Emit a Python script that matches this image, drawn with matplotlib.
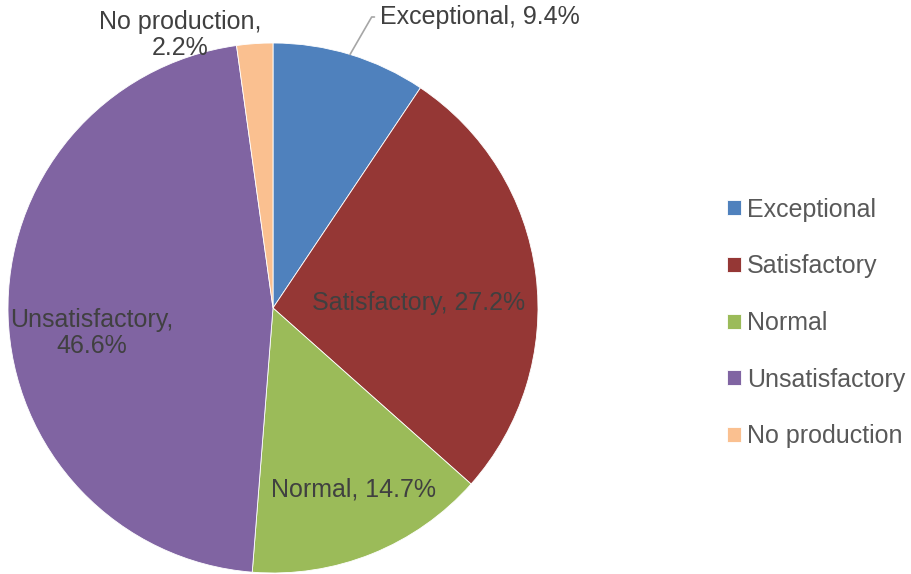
import matplotlib.pyplot as plt
import numpy as np

# Datos del grafico
categorias = ['Exceptional', 'Satisfactory', 'Normal', 'Unsatisfactory', 'No production']
porcentajes = [9.4, 27.2, 14.7, 46.6, 2.2]
colores = ['#4F81BD', '#953735', '#9BBB59', '#8064A2', '#FAC090']

plt.rcParams['font.family'] = ['Liberation Sans', 'DejaVu Sans']

fig = plt.figure(figsize=(9.12, 5.74), dpi=100)
# eje del pastel: centro (273, 308) px, radio 265 px
ax = fig.add_axes([8 / 912, 1 / 574, 530 / 912, 530 / 574])
wedges, _ = ax.pie(porcentajes, colors=colores, startangle=90, counterclock=False,
                   radius=1.0, wedgeprops=dict(edgecolor='white', linewidth=0.6))
ax.set_xlim(-1, 1)
ax.set_ylim(-1, 1)
ax.set_aspect('equal')
ax.axis('off')


def px(x, y):
    # pixeles de la imagen -> coordenadas del eje
    return (x - 273) / 265, (308 - y) / 265


color_txt = '#404040'
fs = 18

# etiquetas de datos
pos_etiquetas = {
    'Satisfactory': (419, 303),
    'Normal': (354, 490),
    'Unsatisfactory': (92, 333),
    'No production': (180, 35),
}
saltos = {'Unsatisfactory': True, 'No production': True}
for cat, val in zip(categorias, porcentajes):
    if cat == 'Exceptional':
        continue
    sep = ',\n' if saltos.get(cat) else ', '
    x, y = px(*pos_etiquetas[cat])
    ax.text(x, y, f'{cat}{sep}{val}%', ha='center', va='center', fontsize=fs,
            color=color_txt, linespacing=1.13)

# Exceptional con linea guia
ang = np.deg2rad((wedges[0].theta1 + wedges[0].theta2) / 2)
tx, ty = px(380, 17)
ax.annotate(f'{categorias[0]}, {porcentajes[0]}%', xy=(np.cos(ang), np.sin(ang)),
            xytext=(tx, ty), ha='left', va='center', fontsize=fs, color=color_txt,
            annotation_clip=False,
            arrowprops=dict(arrowstyle='-', color='#A6A6A6', lw=1.2, shrinkA=2, shrinkB=0,
                            connectionstyle='angle,angleA=0,angleB=60,rad=0'))

# Leyenda
fig.legend(wedges, categorias, loc='center left', bbox_to_anchor=(727 / 912, 1 - 323 / 574),
           frameon=False, fontsize=18, labelcolor='#595959', labelspacing=1.31,
           handlelength=0.55, handleheight=0.55, handletextpad=0.25,
           borderpad=0, borderaxespad=0)

fig.savefig('out.png', dpi=100)
plt.close(fig)
